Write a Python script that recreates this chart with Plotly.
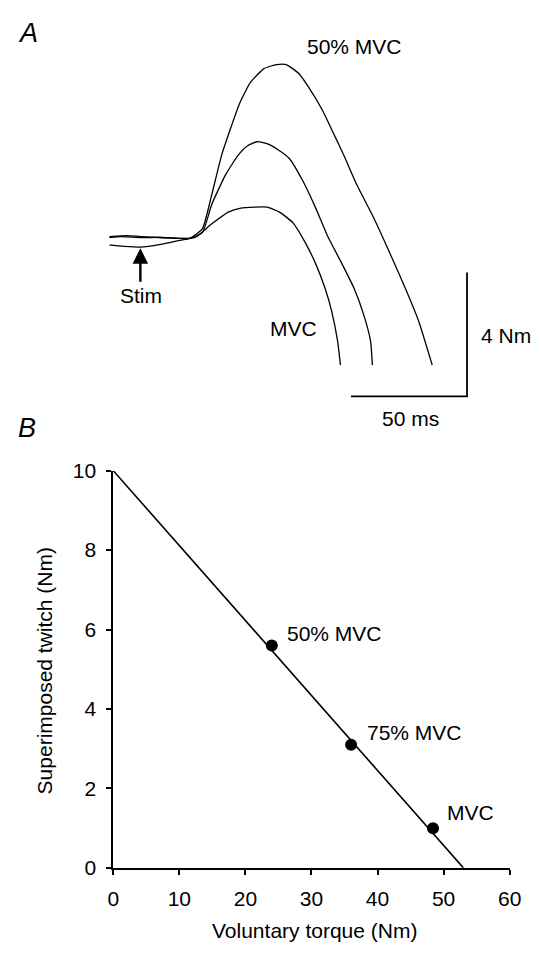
import plotly.graph_objects as go

W, H = 540, 954

# ---------- Panel A data (time in ms from stimulus, torque in Nm rel. baseline) ----------
mvc_t = [-13.3, -7.9, 0, 8.75, 17.1, 21.25, 24.2, 30.8, 37.9, 43.3, 49.2, 54.6, 60, 65.8, 71.25, 75.4, 79.6, 82.5, 85, 86.25]
mvc_v = [0.03, 0.06, 0.03, 0.03, 0, 0, 0.06, 0.47, 0.85, 0.98, 1.01, 1.01, 0.85, 0.5, -0.16, -0.79, -1.61, -2.36, -3.31, -4.09]

p75_t = [-13.3, -5.8, 0, 8.75, 17.1, 21.25, 26.7, 30.8, 36.7, 42.1, 46.25, 50.4, 54.6, 60, 64.2, 70, 75.4, 80.8, 86.7, 92.1, 96.25, 99.2, 100]
p75_v = [0.06, 0.09, 0.06, 0.03, 0, 0, 0.19, 1.10, 2.05, 2.68, 2.99, 3.12, 3.06, 2.83, 2.58, 1.86, 1.01, 0.06, -0.79, -1.61, -2.46, -3.31, -4.09]

p50_t = [-13.3, -7.9, 0, 8.75, 17.1, 21.25, 26.7, 30.8, 35, 39.2, 42.9, 47.5, 53.3, 58.75, 62.9, 68.3, 72.5, 78.3, 83.75, 87.9, 93.3, 100.4, 107.5, 114.2, 120, 125.8]
p50_v = [-0.22, -0.25, -0.28, -0.19, -0.06, 0, 0.31, 1.42, 2.68, 3.62, 4.38, 5.04, 5.48, 5.61, 5.61, 5.32, 4.88, 4.16, 3.31, 2.65, 1.73, 0.69, -0.47, -1.61, -2.68, -4.09]

scale_ms = 50
scale_nm = 4

# ---------- Panel B data ----------
vol_torque = [24.0, 36.0, 48.4]
sup_twitch = [5.6, 3.1, 1.0]
point_labels = ["50% MVC", "75% MVC", "MVC"]
fit_x = [0, 53]
fit_y = [10, 0]
x_ticks = [0, 10, 20, 30, 40, 50, 60]
y_ticks = [0, 2, 4, 6, 8, 10]

FONT = "Liberation Sans, Arial, sans-serif"
FS = 21

def px(x):
    return x / W

def py(y):
    return 1 - y / H

fig = go.Figure()

# Panel A traces
for t, v in [(mvc_t, mvc_v), (p75_t, p75_v), (p50_t, p50_v)]:
    fig.add_trace(go.Scatter(x=t, y=v, mode="lines", xaxis="x", yaxis="y",
                             line=dict(color="black", width=1.3, shape="spline", smoothing=0.5),
                             showlegend=False, hoverinfo="skip"))

# scale bar
bar_t0 = 90.8
bar_v0 = -5.1
fig.add_trace(go.Scatter(x=[bar_t0, bar_t0 + scale_ms, bar_t0 + scale_ms],
                         y=[bar_v0, bar_v0, bar_v0 + scale_nm],
                         mode="lines", xaxis="x", yaxis="y",
                         line=dict(color="black", width=1.8), showlegend=False, hoverinfo="skip"))

# Panel B
fig.add_trace(go.Scatter(x=fit_x, y=fit_y, mode="lines", xaxis="x2", yaxis="y2",
                         line=dict(color="black", width=1.6), showlegend=False, cliponaxis=False))
fig.add_trace(go.Scatter(x=vol_torque, y=sup_twitch, mode="markers", xaxis="x2", yaxis="y2",
                         marker=dict(color="black", size=12),
                         showlegend=False, cliponaxis=False))

# Panel A axes: pixel->data mapping
ms_per_px = 1 / 2.4
nm_per_px = 1 / 31.75
x_lo = (0 - 139) * ms_per_px
x_hi = (540 - 139) * ms_per_px
y_hi = (232 - 0) * nm_per_px
y_lo = (232 - 420) * nm_per_px

axis_common = dict(ticks="outside", ticklen=5, tickwidth=1.5, tickcolor="black",
                   showline=True, linecolor="black", linewidth=1.8, showgrid=False, zeroline=False,
                   tickfont=dict(family=FONT, size=FS, color="black"))

fig.update_layout(
    width=W, height=H,
    margin=dict(l=0, r=0, t=0, b=0),
    paper_bgcolor="white", plot_bgcolor="white",
    font=dict(family=FONT, size=FS, color="black"),
    xaxis=dict(domain=[0, 1], range=[x_lo, x_hi], visible=False, fixedrange=True),
    yaxis=dict(domain=[py(420), 1], range=[y_lo, y_hi], visible=False, fixedrange=True),
    xaxis2=dict(domain=[px(111), px(521)], range=[0, 60], anchor="y2", tickvals=x_ticks,
                ticklabelstandoff=6, **axis_common),
    yaxis2=dict(domain=[py(877), py(470)], range=[0, 10], anchor="x2", tickvals=y_ticks,
                ticklabelstandoff=6, **axis_common),
)

ann = []
def text(x, y, s, size=FS, xanchor="center", italic=False):
    ann.append(dict(x=px(x), y=py(y), xref="paper", yref="paper", text=("<i>%s</i>" % s) if italic else s,
                    showarrow=False, xanchor=xanchor, yanchor="middle",
                    font=dict(family=FONT, size=size, color="black")))

text(10, 22, "A", size=27, xanchor="left", italic=True)
text(10, 426, "B", size=27, xanchor="left", italic=True)
text(361, 35, "50% MVC")
text(297, 324, "MVC")
text(140, 291, "Stim")
text(489, 332, "4 Nm", xanchor="left")
text(418, 417, "50 ms")
text(319, 941, "Voluntary torque (Nm)")
ann.append(dict(x=px(40), y=py(675), xref="paper", yref="paper", text="Superimposed twitch (Nm)",
                showarrow=False, textangle=-90, xanchor="center", yanchor="middle",
                font=dict(family=FONT, size=FS, color="black")))

# point labels in panel B
shifts = [(13, 12), (14, 12), (12, 16)]
for xv, yv, lab, (dx, dy) in zip(vol_torque, sup_twitch, point_labels, shifts):
    ann.append(dict(x=xv, y=yv, xref="x2", yref="y2", text=lab, showarrow=False,
                    xanchor="left", yanchor="middle", xshift=dx, yshift=dy,
                    font=dict(family=FONT, size=FS, color="black")))

# stim arrow
ann.append(dict(x=px(139), y=py(242), xref="paper", yref="paper", text="", showarrow=True,
                ax=0, ay=35, arrowhead=2, arrowsize=1.3, arrowwidth=2.4, arrowcolor="black"))

fig.update_layout(annotations=ann)

fig.write_html("out.html")
